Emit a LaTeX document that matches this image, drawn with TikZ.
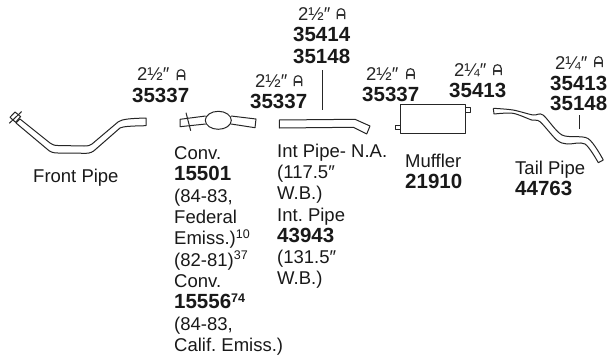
\documentclass[tikz,border=0pt]{standalone}
\usepackage{fontspec}
\setmainfont{Liberation Sans}
\newcommand{\tb}[1]{\textbf{#1}}
\newcommand{\supb}[1]{\raisebox{6.5pt}{\fontsize{12.5}{12.5}\selectfont #1}}
\newcommand{\clampicon}[2]{%
  \draw[clampline] (#1-3.8,#2+5) -- (#1-3.8,#2-1.5) .. controls (#1-3.8,#2-6.5) and (#1+3.8,#2-6.5) .. (#1+3.8,#2-1.5) -- (#1+3.8,#2+5);
  \draw[clampline] (#1-3.8,#2+1) -- (#1+3.8,#2+1);}
\tikzset{x=1pt,y=-1pt,
  pipeline/.style={draw=black!85,line width=1pt,line join=round},
  clampline/.style={draw=black!80,line width=1.2pt},
  size/.style={anchor=base west,inner sep=0pt,font=\fontsize{18.5}{18.5}\selectfont,text=black!85},
  partno/.style={anchor=base west,inner sep=0pt,font=\fontsize{20.5}{20.5}\selectfont\bfseries,text=black!90},
  blocktext/.style={anchor=north west,inner sep=0pt,align=left,text=black!90,font=\frenchspacing\fontsize{18.5}{21.3}\selectfont},
  partlabel/.style={anchor=base west,inner sep=0pt,text=black!90,font=\fontsize{18.5}{18.5}\selectfont}}
\begin{document}
\begin{tikzpicture}
\useasboundingbox (0,0) rectangle (610,356);
% front pipe
\draw[pipeline,fill=white] (146,118) .. controls (130,118.5) and (122,119) .. (118,122) -- (92,144) .. controls (90,145.5) and (88,146) .. (84,146) -- (58,145.5) .. controls (54,145.5) and (52,144.5) .. (50,143) -- (20,119) -- (16,123) -- (47,149) .. controls (50,152) and (53,153) .. (58,153) -- (86,153.3) .. controls (90,153.3) and (93,152) .. (96,149) -- (120,128) .. controls (123,126.5) and (130,126) .. (146,125.7) -- cycle;
\draw[pipeline] (15,112) -- (20.6,116.6) -- (15.6,122.3) -- (10,117.3) -- cycle;
\draw[pipeline] (9.3,123.3) -- (21.6,111.6);
% converter
\draw[pipeline] (205.7,116) -- (180,119.3) -- (180,126.7) -- (205.7,124);
\draw[pipeline] (231,116) -- (256,119) -- (255,127.7) -- (231,124);
\draw[pipeline] (218.3,120.3) ellipse[x radius=13,y radius=9];
\draw[pipeline] (186,112.7) -- (190.7,130.7);
% int pipe
\draw[pipeline] (279.3,120) -- (355,119.3) -- (370,126) -- (366.7,134) -- (353.3,127.3) -- (279.3,128) -- cycle;
\draw[pipeline] (322.3,70) -- (322.3,110);
% muffler
\draw[pipeline] (400,104.7) rectangle (465,133.3);
\draw[pipeline] (465,107.7) rectangle (470.3,112);
\draw[pipeline] (395,125) rectangle (400,129.3);
% tail pipe
\draw[pipeline] plot[smooth,tension=0.5] coordinates {(493.3,108.3) (513,110) (533,115) (543,115) (562,135) (588,138.5) (603.3,160)} -- (598.3,162.7)
  plot[smooth,tension=0.5] coordinates {(598.3,162.7) (585,144) (567,144) (556.7,140) (540,121.7) (531.7,120) (513,113.3) (494,114)} -- (493.3,108.3);
\draw[pipeline] (579,115) -- (579,129);
% size labels
\node[size] (s1) at (137,80) {2½″}; \clampicon{181}{75}
\node[partno] (p1) at (132,102) {35337};
\node[size] (s2) at (255,87) {2½″}; \clampicon{298}{81}
\node[partno] (p2) at (250,108) {35337};
\node[size] (s3) at (298,20) {2½″}; \clampicon{341}{14}
\node[partno] (p3) at (293,41) {35414};
\node[partno] (p3b) at (293,63) {35148};
\node[size] (s4) at (366,80) {2½″}; \clampicon{410.5}{74}
\node[partno] (p4) at (362,101) {35337};
\node[size] (s5) at (454,76) {2¼″}; \clampicon{497.5}{70}
\node[partno] (p5) at (449,97) {35413};
\node[size] (s6) at (555,69) {2¼″}; \clampicon{598.5}{62}
\node[partno] (p6) at (550,90) {35413};
\node[partno] (p6b) at (550,110) {35148};
% part labels
\node[partlabel] (front) at (33,182) {Front Pipe};
\node[blocktext] (conv) at (174,146.5) {Conv.\\\tb{\fontsize{20.5}{21.3}\selectfont 15501}\\(84-83,\\Federal\\Emiss.)\supb{10}\\(82-81)\supb{37}\\Conv.\\\tb{\fontsize{20.5}{21.3}\selectfont 15556\supb{\bfseries 74}}\\(84-83,\\Calif. Emiss.)};
\node[blocktext] (intp) at (277,143.5) {Int Pipe- N.A.\\(117.5″\\W.B.)\\Int. Pipe\\\tb{\fontsize{20.5}{21.3}\selectfont 43943}\\(131.5″\\W.B.)};
\node[partlabel] (muff) at (405,167) {Muffler};
\node[partno] (muffn) at (405,188) {21910};
\node[partlabel] (tail) at (515,174) {Tail Pipe};
\node[partno] (tailn) at (515,195) {44763};
\end{tikzpicture}
\end{document}
